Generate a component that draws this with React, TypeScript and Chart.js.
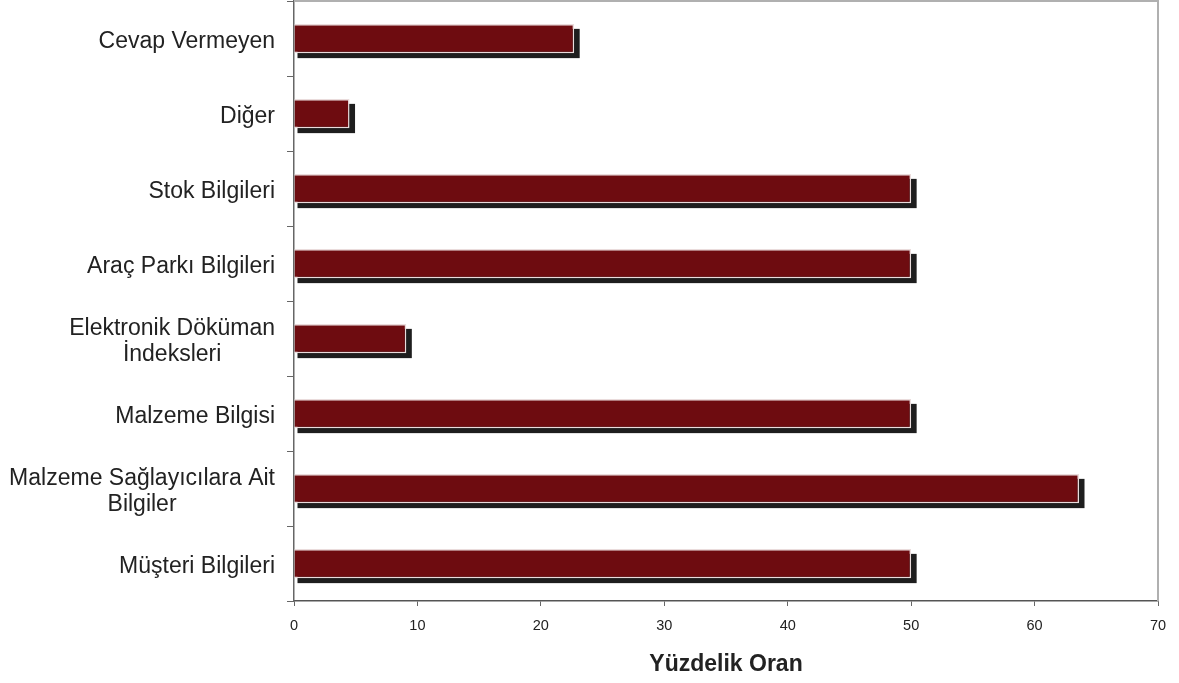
import React, { useEffect, useRef } from "react";
import { Chart, registerables } from "chart.js";

Chart.register(...registerables);

const categories: (string | string[])[] = [
  "Cevap Vermeyen",
  "Diğer",
  "Stok Bilgileri",
  "Araç Parkı Bilgileri",
  ["Elektronik Döküman", "İndeksleri"],
  "Malzeme Bilgisi",
  ["Malzeme Sağlayıcılara Ait", "Bilgiler"],
  "Müşteri Bilgileri",
];
const values: number[] = [22.7, 4.5, 50, 50, 9.1, 50, 63.6, 50];
const xMin = 0;
const xMax = 70;
const xStep = 10;
const xTitle = "Yüzdelik Oran";

const FONT = "'Liberation Sans', Arial, sans-serif";

const shadowPlugin = {
  id: "barShadow",
  beforeDatasetsDraw(chart: any) {
    const ctx = chart.ctx;
    const meta = chart.getDatasetMeta(0);
    ctx.save();
    ctx.fillStyle = "#1e1e1e";
    meta.data.forEach((bar: any) => {
      const top = bar.y - bar.height / 2;
      const left = bar.base + 3;
      const right = bar.x + 5.5;
      ctx.fillRect(left, top + 5, right - left, bar.height);
    });
    ctx.restore();
  },
};

const framePlugin = {
  id: "frameAndLabels",
  afterDraw(chart: any) {
    const ctx = chart.ctx;
    const { left, right, top, bottom } = chart.chartArea;
    ctx.save();
    ctx.strokeStyle = "#b0b0b0";
    ctx.lineWidth = 2;
    ctx.beginPath();
    ctx.moveTo(left, top);
    ctx.lineTo(right, top);
    ctx.lineTo(right, bottom);
    ctx.stroke();

    // y category labels: lines centered on each other, right edge aligned
    const yScale = chart.scales.y;
    ctx.font = `23px ${FONT}`;
    ctx.fillStyle = "#222222";
    ctx.textAlign = "center";
    ctx.textBaseline = "middle";
    const rightEdge = 275;
    const lh = 26;
    categories.forEach((lab, i) => {
      const lines = Array.isArray(lab) ? lab : [lab];
      const w = Math.max(...lines.map((l) => ctx.measureText(l).width));
      const cx = rightEdge - w / 2;
      const cy = yScale.getPixelForTick(i) + 3;
      const startY = cy - ((lines.length - 1) * lh) / 2;
      lines.forEach((l, j) => ctx.fillText(l, cx, startY + j * lh));
    });
    ctx.restore();
  },
};

export default function App() {
  const ref = useRef<HTMLCanvasElement>(null);
  useEffect(() => {
    if (!ref.current) return;
    const chart = new Chart(ref.current, {
      type: "bar",
      data: {
        labels: categories,
        datasets: [
          {
            data: values,
            backgroundColor: "#6e0c10",
            borderColor: "#eadcdc",
            borderWidth: 1.5,
            barPercentage: 0.39,
            categoryPercentage: 1,
          },
        ],
      },
      options: {
        indexAxis: "y",
        responsive: false,
        animation: false,
        layout: { padding: { top: 1, right: 21, left: 0, bottom: 0 } },
        plugins: {
          legend: { display: false },
          tooltip: { enabled: false },
        },
        scales: {
          x: {
            min: xMin,
            max: xMax,
            ticks: {
              stepSize: xStep,
              color: "#222222",
              font: { family: FONT, size: 14.5 },
              padding: 11,
            },
            grid: {
              drawOnChartArea: false,
              drawTicks: true,
              tickLength: 5,
              color: "#666666",
            },
            border: { color: "#555555", width: 1.5 },
            title: {
              display: true,
              text: xTitle,
              color: "#222222",
              font: { family: FONT, size: 23, weight: "bold" },
              padding: { top: 0, bottom: 5 },
            },
            afterFit(scale: any) {
              scale.height = 82;
            },
          },
          y: {
            ticks: {
              display: false,
            },
            grid: {
              drawOnChartArea: false,
              drawTicks: true,
              tickLength: 7,
              color: "#666666",
              offset: true,
            },
            border: { color: "#666666", width: 1.5 },
            afterFit(scale: any) {
              scale.width = 294;
            },
          },
        },
      },
      plugins: [shadowPlugin, framePlugin],
    });
    return () => chart.destroy();
  }, []);
  return (
    <canvas
      ref={ref}
      width={1179}
      height={683}
      style={{ position: "absolute", left: 0, top: 0, display: "block" }}
    />
  );
}
